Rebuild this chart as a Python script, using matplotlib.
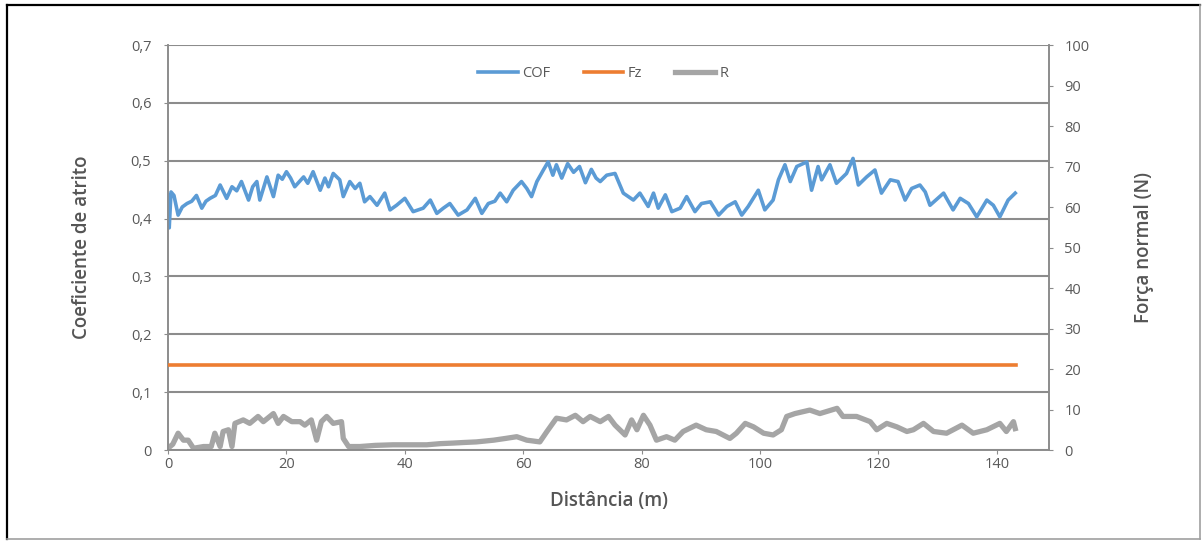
import matplotlib
matplotlib.use('Agg')
import matplotlib.pyplot as plt
from matplotlib.lines import Line2D
from matplotlib.ticker import FuncFormatter

# dados
cof_dist = [0, 0.2, 0.5, 1.0, 1.7, 2.4, 3.2, 4.0, 4.8, 5.7, 6.4, 7.1, 8.0, 8.8, 9.9, 10.8, 11.6, 12.4,
            13.6, 14.3, 15.0, 15.5, 16.7, 17.8, 18.6, 19.3, 20.0, 20.7, 21.4, 22.9, 23.6, 24.5, 25.7,
            26.5, 27.1, 27.9, 29.0, 29.6, 30.7, 31.6, 32.4, 33.2, 34.1, 35.3, 36.6, 37.5, 38.6, 40.0,
            41.4, 43.1, 44.3, 45.4, 46.5, 47.6, 49.0, 50.5, 51.9, 53.0, 54.1, 55.2, 56.1, 57.2, 58.3,
            59.7, 60.6, 61.4, 62.3, 63.4, 64.2, 65.0, 65.6, 66.5, 67.5, 68.5, 69.5, 70.5, 71.5, 72.3,
            73.0, 74.1, 75.5, 76.9, 78.6, 79.7, 81.1, 82.0, 82.8, 84.0, 85.1, 86.5, 87.6, 89.0, 90.1,
            91.6, 93.0, 94.4, 95.8, 96.9, 98.0, 99.7, 100.8, 102.2, 103.1, 104.2, 105.1, 106.2, 107.9,
            108.7, 109.8, 110.4, 111.8, 112.9, 114.6, 115.7, 116.6, 118.0, 119.4, 120.5, 122.0, 123.3,
            124.5, 125.6, 127.0, 127.9, 128.7, 130.0, 131.0, 132.6, 133.8, 135.2, 136.6, 138.3, 139.4,
            140.5, 141.9, 143.1]
cof_vals = [0.44, 0.384, 0.446, 0.44, 0.406, 0.42, 0.426, 0.43, 0.44, 0.418, 0.43, 0.435, 0.44, 0.458,
            0.435, 0.455, 0.448, 0.464, 0.432, 0.455, 0.464, 0.432, 0.472, 0.438, 0.475, 0.468, 0.481,
            0.47, 0.455, 0.472, 0.461, 0.481, 0.449, 0.47, 0.455, 0.478, 0.467, 0.438, 0.464, 0.452,
            0.461, 0.429, 0.438, 0.423, 0.444, 0.415, 0.423, 0.435, 0.412, 0.418, 0.432, 0.409, 0.418,
            0.426, 0.406, 0.415, 0.435, 0.409, 0.426, 0.43, 0.444, 0.429, 0.449, 0.464, 0.452, 0.438,
            0.464, 0.484, 0.498, 0.475, 0.493, 0.47, 0.495, 0.48, 0.49, 0.462, 0.485, 0.47, 0.464,
            0.475, 0.478, 0.444, 0.432, 0.444, 0.421, 0.444, 0.418, 0.441, 0.412, 0.418, 0.438, 0.412,
            0.426, 0.429, 0.406, 0.421, 0.429, 0.406, 0.421, 0.449, 0.415, 0.432, 0.467, 0.493, 0.464,
            0.49, 0.498, 0.449, 0.49, 0.467, 0.493, 0.461, 0.478, 0.504, 0.458, 0.472, 0.484, 0.444,
            0.467, 0.464, 0.432, 0.452, 0.458, 0.446, 0.423, 0.435, 0.444, 0.415, 0.435, 0.426, 0.403,
            0.432, 0.423, 0.403, 0.432, 0.444]

r_dist = [0, 0.8, 1.7, 2.6, 3.4, 4.3, 6.0, 7.3, 7.9, 8.8, 9.3, 10.2, 10.8, 11.3, 12.7, 13.8, 15.2, 16.1,
          17.8, 18.6, 19.5, 20.9, 22.3, 23.1, 24.2, 25.1, 25.9, 26.8, 27.9, 29.3, 29.6, 30.5, 32.4, 35.0,
          38.0, 41.0, 43.7, 46.0, 48.2, 50.0, 52.1, 55.0, 57.0, 58.9, 60.6, 62.8, 64.0, 65.6, 67.3, 68.8,
          70.1, 71.3, 73.0, 74.4, 75.5, 77.2, 78.3, 79.2, 80.3, 81.4, 82.5, 84.2, 85.6, 87.0, 89.2, 90.9,
          92.6, 94.9, 96.0, 97.5, 98.9, 100.6, 102.2, 103.6, 104.5, 105.9, 108.4, 110.1, 113.0, 114.0,
          116.3, 118.6, 119.7, 121.4, 123.1, 124.8, 125.9, 127.6, 129.3, 131.5, 134.1, 136.0, 138.3,
          140.5, 141.6, 142.8, 143.1]
r_vals = [0.003, 0.01, 0.029, 0.017, 0.017, 0.003, 0.006, 0.006, 0.029, 0.006, 0.032, 0.035, 0.006,
          0.046, 0.052, 0.046, 0.058, 0.049, 0.063, 0.046, 0.058, 0.049, 0.049, 0.043, 0.052, 0.017,
          0.049, 0.058, 0.046, 0.049, 0.02, 0.006, 0.006, 0.008, 0.009, 0.009, 0.009, 0.011, 0.012,
          0.013, 0.014, 0.017, 0.02, 0.023, 0.017, 0.014, 0.032, 0.055, 0.052, 0.06, 0.049, 0.058,
          0.049, 0.058, 0.043, 0.026, 0.052, 0.035, 0.06, 0.043, 0.017, 0.023, 0.017, 0.032, 0.043,
          0.035, 0.032, 0.02, 0.029, 0.046, 0.04, 0.029, 0.026, 0.035, 0.058, 0.063, 0.069, 0.063,
          0.072, 0.058, 0.058, 0.049, 0.035, 0.046, 0.04, 0.032, 0.035, 0.046, 0.032, 0.029, 0.043,
          0.029, 0.035, 0.046, 0.032, 0.049, 0.037]

fz_dist = [0, 36, 72, 108, 143.3]
fz_vals = [21.0, 21.0, 21.0, 21.0, 21.0]

plt.rcParams['font.family'] = ['Open Sans', 'DejaVu Sans']
tick_color = '#595959'
grid_color = '#8C8C8C'
label_color = '#555555'

fig = plt.figure(figsize=(12.02, 5.41), dpi=100)
ax = fig.add_axes([0.1398, 0.1682, 0.7329, 0.7486])
ax2 = ax.twinx()

# linhas
ax.plot(cof_dist, cof_vals, color='#5B9BD5', lw=2.6, label='COF', zorder=3)
ax2.plot(fz_dist, fz_vals, color='#ED7D31', lw=2.6, label='Fz', zorder=3)
ax.plot(r_dist, r_vals, color='#A5A5A5', lw=3.8, label='R', zorder=3)

ax.set_xlim(0, 148.8)
ax.set_ylim(0, 0.7)
ax2.set_ylim(0, 100)
ax.set_xticks(range(0, 141, 20))
ax.set_yticks([i / 10 for i in range(8)])
ax2.set_yticks(range(0, 101, 10))
ax.yaxis.set_major_formatter(FuncFormatter(lambda v, p: '0' if v == 0 else f'{v:.1f}'.replace('.', ',')))

ax.grid(axis='y', color=grid_color, lw=1.5)
ax.set_axisbelow(True)
for a in (ax, ax2):
    for s in a.spines.values():
        s.set_color(grid_color)
        s.set_linewidth(1.2)
    a.spines['top'].set_visible(False)

ax.tick_params(axis='y', length=3, pad=9, colors=grid_color, labelcolor=tick_color, labelsize=10.5)
ax.tick_params(axis='x', length=3, pad=2, colors=grid_color, labelcolor=tick_color, labelsize=10.5)
ax2.tick_params(axis='y', length=3, pad=8, colors=grid_color, labelcolor=tick_color, labelsize=10.5)

ax.set_xlabel('Distância (m)', fontsize=13.5, fontweight='semibold', color=label_color, labelpad=14)
ax.set_ylabel('Coeficiente de atrito', fontsize=13.5, fontweight='semibold', color=label_color, labelpad=28)
ax2.set_ylabel('Força normal (N)', fontsize=13.5, fontweight='semibold', color=label_color, labelpad=32)

# legenda no topo
h1, l1 = ax.get_legend_handles_labels()
h2, l2 = ax2.get_legend_handles_labels()
handles = [h1[0], h2[0], h1[1]]
labels = [l1[0], l2[0], l1[1]]
ax.legend(handles, labels, loc='center', bbox_to_anchor=(0.494, 0.93), ncol=3, frameon=False,
          fontsize=10.5, handlelength=2.7, columnspacing=2.3, handletextpad=0.3, labelcolor=tick_color)

# moldura da figura
fig.add_artist(Line2D([0.006, 0.998], [0.991, 0.991], color='black', lw=1.6))
fig.add_artist(Line2D([0.006, 0.006], [0.004, 0.991], color='black', lw=1.6))
fig.add_artist(Line2D([0.998, 0.998], [0.004, 0.991], color='#A0A0A0', lw=1.2))
fig.add_artist(Line2D([0.006, 0.998], [0.004, 0.004], color='#A0A0A0', lw=1.2))

fig.savefig('out.png', dpi=100)
